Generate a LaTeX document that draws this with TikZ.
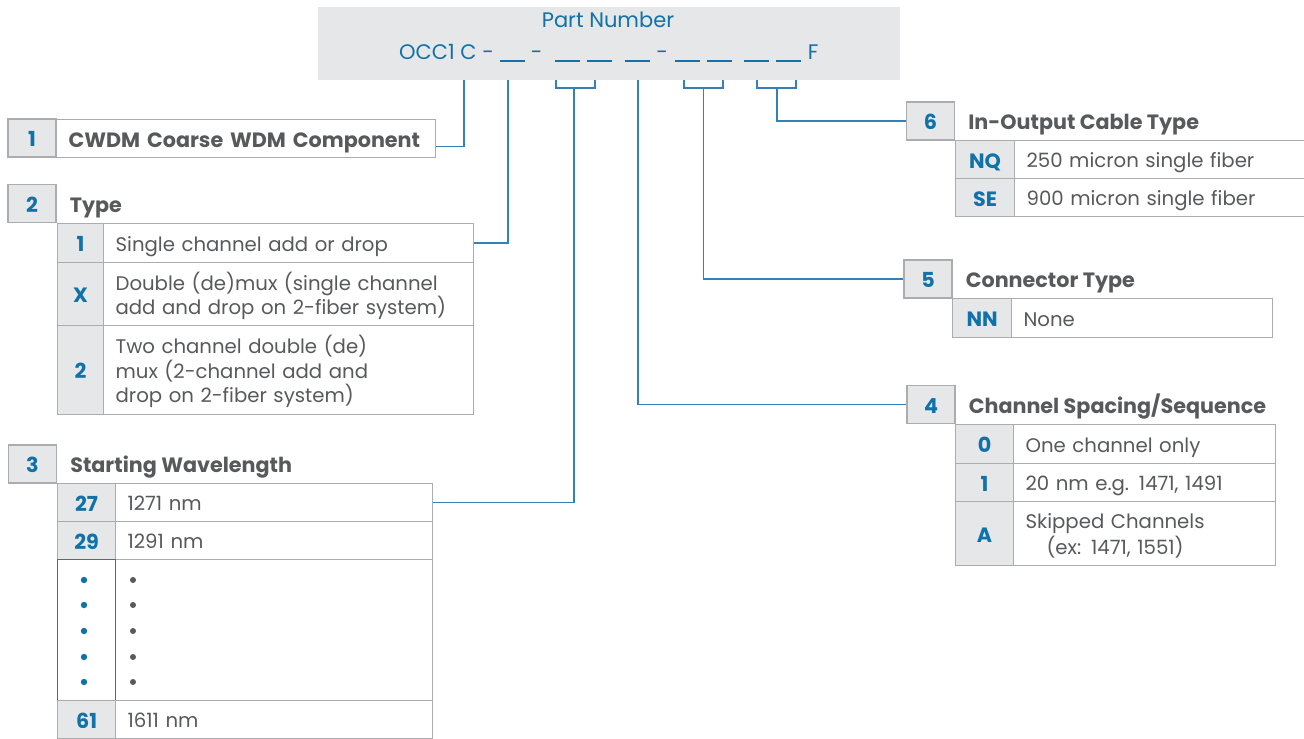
\documentclass[tikz,border=0pt]{standalone}
\usepackage{fontspec}
\setmainfont{Poppins}
\usetikzlibrary{positioning}

\definecolor{pblue}{RGB}{16,114,168}
\definecolor{lblue}{RGB}{52,128,184}
\definecolor{gtext}{RGB}{88,89,91}
\definecolor{gfill}{RGB}{230,231,232}
\definecolor{gborder}{RGB}{170,172,175}
\definecolor{dborder}{RGB}{100,101,103}

\newcommand\cellfont{\fontsize{19.7}{24.5}\selectfont}
\newcommand\headfont{\fontsize{20.7}{24.5}\selectfont\bfseries}
\newcommand\pnfont{\fontsize{21}{24}\selectfont}
\newcommand\slot{\rule[-3pt]{25pt}{1.6pt}}

\tikzset{
  capcentre/.style={execute at begin node={\rule{0pt}{1.15em}},execute at end node={\rule[-0.3em]{0pt}{0.3em}}},
  numbox/.style={capcentre,fill=gfill,draw=gborder,line width=1.2pt,minimum width=48pt,minimum height=38pt,inner sep=0pt,font=\headfont,text=pblue},
  codecell/.style={capcentre,fill=gfill,draw=gborder,line width=1.2pt,anchor=north west,inner sep=0pt,font=\headfont,text=pblue},
  desccell/.style={capcentre,fill=white,draw=gborder,line width=1.2pt,anchor=north west,inner xsep=12pt,inner ysep=0pt,align=left,font=\cellfont,text=gtext},
  headtxt/.style={capcentre,font=\headfont,text=gtext,inner sep=0pt},
  link/.style={draw=lblue,line width=1.5pt},
}

\begin{document}
\begin{tikzpicture}[x=1pt,y=-1pt]
\useasboundingbox (0,0) rectangle (1304,739);

% part number
\node[fill=gfill,minimum width=582pt,minimum height=73pt,anchor=north west,inner sep=0pt] (pn) at (318,7) {};
\node[text=pblue,font=\pnfont,inner sep=0pt] (pnt) at (608,20) {Part Number};
\node[text=pblue,font=\pnfont,anchor=base west,inner sep=0pt] (pnc) at (399,59)
  {OCC1 C -\hspace{6pt}\slot\hspace{6pt}-\hspace{13pt}\slot\hspace{7pt}\slot\hspace{13pt}\slot\hspace{6pt}-\hspace{7pt}\slot\hspace{7pt}\slot\hspace{12pt}\slot\hspace{7pt}\slot\hspace{7pt}F};

% 1
\node[numbox] (n1) at (32,138) {1};
\node[desccell,font=\headfont,text width=355pt,minimum height=38pt] (t1) at (56,119) {CWDM Coarse WDM Component};

% 2
\node[numbox] (n2) at (32,203.5) {2};
\node[headtxt,right=13pt of n2] (h2) {Type};
\node[codecell,minimum width=46pt,minimum height=39pt] (c21) at (57,223) {1};
\node[desccell,text width=346pt,minimum height=39pt] (d21) at (103,223) {Single channel add or drop};
\node[codecell,minimum width=46pt,minimum height=63pt] (c22) at (57,262) {X};
\node[desccell,text width=346pt,minimum height=63pt] (d22) at (103,262) {Double (de)mux (single channel\\add and drop on 2-fiber system)};
\node[codecell,minimum width=46pt,minimum height=89pt] (c23) at (57,325) {2};
\node[desccell,text width=346pt,minimum height=89pt] (d23) at (103,325) {Two channel double (de)\\mux (2-channel add and\\drop on 2-fiber system)};

% 3
\node[numbox] (n3) at (32.5,464) {3};
\node[headtxt,right=13pt of n3] (h3) {Starting Wavelength};
\node[codecell,minimum width=58pt,minimum height=38pt] (c31) at (57,483) {27};
\node[desccell,text width=293pt,minimum height=38pt] (d31) at (115,483) {1271 nm};
\node[codecell,minimum width=58pt,minimum height=38pt] (c32) at (57,521) {29};
\node[desccell,text width=293pt,minimum height=38pt] (d32) at (115,521) {1291 nm};
\node[desccell,text width=293pt,minimum height=141pt] (d33) at (115,559) {};
\node[codecell,fill=white,draw=dborder,line width=1pt,minimum width=58pt,minimum height=141pt] (c33) at (57,559) {};
\foreach \y in {580,605,631,657,682} {
  \fill[pblue] (84,\y) circle (3.2pt);
  \fill[gtext] (133,\y) circle (3pt);
}
\node[codecell,minimum width=58pt,minimum height=38pt] (c34) at (57,700) {61};
\node[desccell,text width=293pt,minimum height=38pt] (d34) at (115,700) {1611 nm};

% 4
\node[numbox] (n4) at (931,404.5) {4};
\node[headtxt,right=13pt of n4] (h4) {Channel Spacing/Sequence};
\node[codecell,minimum width=58pt,minimum height=39pt] (c41) at (955,424) {0};
\node[desccell,text width=238pt,minimum height=39pt] (d41) at (1013,424) {One channel only};
\node[codecell,minimum width=58pt,minimum height=38pt] (c42) at (955,463) {1};
\node[desccell,text width=238pt,minimum height=38pt] (d42) at (1013,463) {20 nm e.g. 1471, 1491};
\node[codecell,minimum width=58pt,minimum height=64pt] (c43) at (955,501) {A};
\node[desccell,text width=238pt,minimum height=64pt] (d43) at (1013,501)
  {\begin{tabular}[t]{@{}c@{}}Skipped Channels\\(ex: 1471, 1551)\end{tabular}};

% 5
\node[numbox] (n5) at (928,279) {5};
\node[headtxt,right=13pt of n5] (h5) {Connector Type};
\node[codecell,minimum width=59pt,minimum height=39pt] (c51) at (952,298) {NN};
\node[desccell,text width=237pt,minimum height=39pt] (d51) at (1011,298) {None};

% 6
\node[numbox] (n6) at (930.5,121) {6};
\node[headtxt,right=13pt of n6] (h6) {In-Output Cable Type};
\node[codecell,minimum width=59pt,minimum height=38pt] (c61) at (955,140) {NQ};
\node[desccell,text width=272pt,minimum height=38pt] (d61) at (1014,140) {250 micron single fiber};
\node[codecell,minimum width=59pt,minimum height=38pt] (c62) at (955,178) {SE};
\node[desccell,text width=272pt,minimum height=38pt] (d62) at (1014,178) {900 micron single fiber};

% connectors
\coordinate (s1) at (464,80);
\coordinate (s2) at (508,80);
\coordinate (s4) at (638,80);
\coordinate (b3) at (574,88);
\coordinate (b5) at (703.5,88);
\coordinate (b6) at (777,88);
\draw[link] (556,80) -- (556,88) -- (595,88) -- (595,80);
\draw[link] (684,80) -- (684,88) -- (723,88) -- (723,80);
\draw[link] (757,80) -- (757,88) -- (796,88) -- (796,80);
\draw[link] (s1) |- ([yshift=-8pt]t1.east);
\draw[link] (s2) |- (d21.east);
\draw[link] (b3) |- (d31.east);
\draw[link] (s4) |- (n4.west);
\draw[link] (b5) |- (n5.west);
\draw[link] (b6) |- (n6.west);

\end{tikzpicture}
\end{document}
